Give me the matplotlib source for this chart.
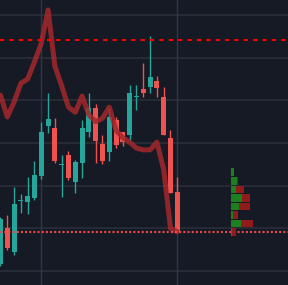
import numpy as np
import matplotlib
matplotlib.use('Agg')
import matplotlib.pyplot as plt

# OHLC candles
opens = [100.8, 105.0, 102.2, 108.2, 108.1, 108.5, 111.1, 117.0, 116.8, 112.4,
         113.6, 110.4, 112.7, 116.3, 119.1, 114.9, 114.0, 117.7, 116.3, 115.9,
         120.35, 121.3, 121.6, 122.3, 120.4, 115.6, 109.3]
highs = [106.3, 106.6, 109.8, 109.0, 111.0, 112.9, 117.5, 120.9, 117.9, 113.6,
         114.1, 113.0, 117.7, 120.9, 119.6, 115.9, 119.1, 118.1, 116.3, 121.8,
         121.8, 124.4, 127.5, 122.9, 121.6, 116.5, 111.0]
lows = [100.6, 102.5, 101.9, 106.8, 106.7, 108.3, 110.8, 116.2, 112.7, 108.7,
        110.7, 109.1, 110.9, 115.7, 112.7, 112.5, 112.9, 114.4, 114.6, 115.3,
        118.9, 120.4, 120.9, 120.4, 115.9, 109.1, 104.5]
closes = [106.1, 102.7, 107.9, 108.3, 108.8, 111.25, 116.3, 117.8, 112.9, 112.5,
          110.9, 112.8, 116.8, 119.1, 115.2, 112.9, 118.05, 114.8, 115.1, 120.9,
          120.42, 120.9, 122.7, 121.45, 115.9, 109.1, 104.6]

# overlay line
line_vals = [120.6, 118.05, 119.8, 122.0, 122.5, 124.5, 126.7, 130.6, 124.0, 121.7,
             119.2, 118.6, 120.5, 118.3, 117.5, 117.9, 119.2, 116.5, 115.6, 115.1,
             114.4, 114.2, 114.2, 115.1, 111.9, 105.0, 104.6]

# volume profile (price bins, buy / sell volume)
vp_bottoms = [104.1, 105.1, 106.1, 107.1, 108.1, 109.1, 110.1, 111.1]
vp_buy = [1, 10, 2, 8, 11, 5, 6, 3]
vp_sell = [4, 12, 5, 11, 8, 8, 1, 0]

resistance = 127.1
last_price = 104.6

bg = '#161a25'
up_color = '#26a69a'
down_color = '#ef5350'

fig = plt.figure(figsize=(2.88, 2.85), dpi=100)
fig.patch.set_facecolor(bg)
ax = fig.add_axes([0, 0, 1, 1])
ax.set_facecolor(bg)

# grid
for p in range(100, 131, 5):
    ax.axhline(p, color='#2a2e39', lw=1.2, zorder=0)
for i in (6, 26):
    ax.axvline(i, color='#2f3545', lw=1, zorder=0)

x = np.arange(len(opens))
o = np.array(opens)
c = np.array(closes)
colors = [up_color if cc >= oo else down_color for oo, cc in zip(o, c)]
ax.vlines(x, lows, highs, color=colors, lw=1, zorder=2)
bottom = np.minimum(o, c)
height = np.maximum(np.abs(c - o), 0.15)
ax.bar(x, height, bottom=bottom, width=0.74, color=colors, zorder=3)

ax.plot(x, line_vals, color='#a3282b', lw=3.6, alpha=0.85,
        solid_capstyle='round', solid_joinstyle='round', zorder=4)

ax.axhline(resistance, color='#ff0000', lw=1.5, linestyle=(0, (2, 2.5)), zorder=5)
ax.axhline(last_price, color='#e84a4f', lw=1.5, linestyle=(0, (1, 1)), zorder=5)

ax.set_xlim(-0.07, 42.28)
ax.set_ylim(98.36, 131.76)
ax.set_xticks([])
ax.set_yticks([])
for s in ax.spines.values():
    s.set_visible(False)

# volume profile on its own x scale
ax2 = ax.twiny()
ax2.set_xlim(-231, 57)
vb = np.array(vp_bottoms)
ax2.barh(vb + 0.46, vp_buy, height=0.92, color='#1e7f1e', zorder=3)
ax2.barh(vb + 0.46, vp_sell, left=vp_buy, height=0.92, color='#8f1b1b', zorder=3)
ax2.set_xticks([])
for s in ax2.spines.values():
    s.set_visible(False)

fig.savefig('out.png', dpi=100, facecolor=bg)
